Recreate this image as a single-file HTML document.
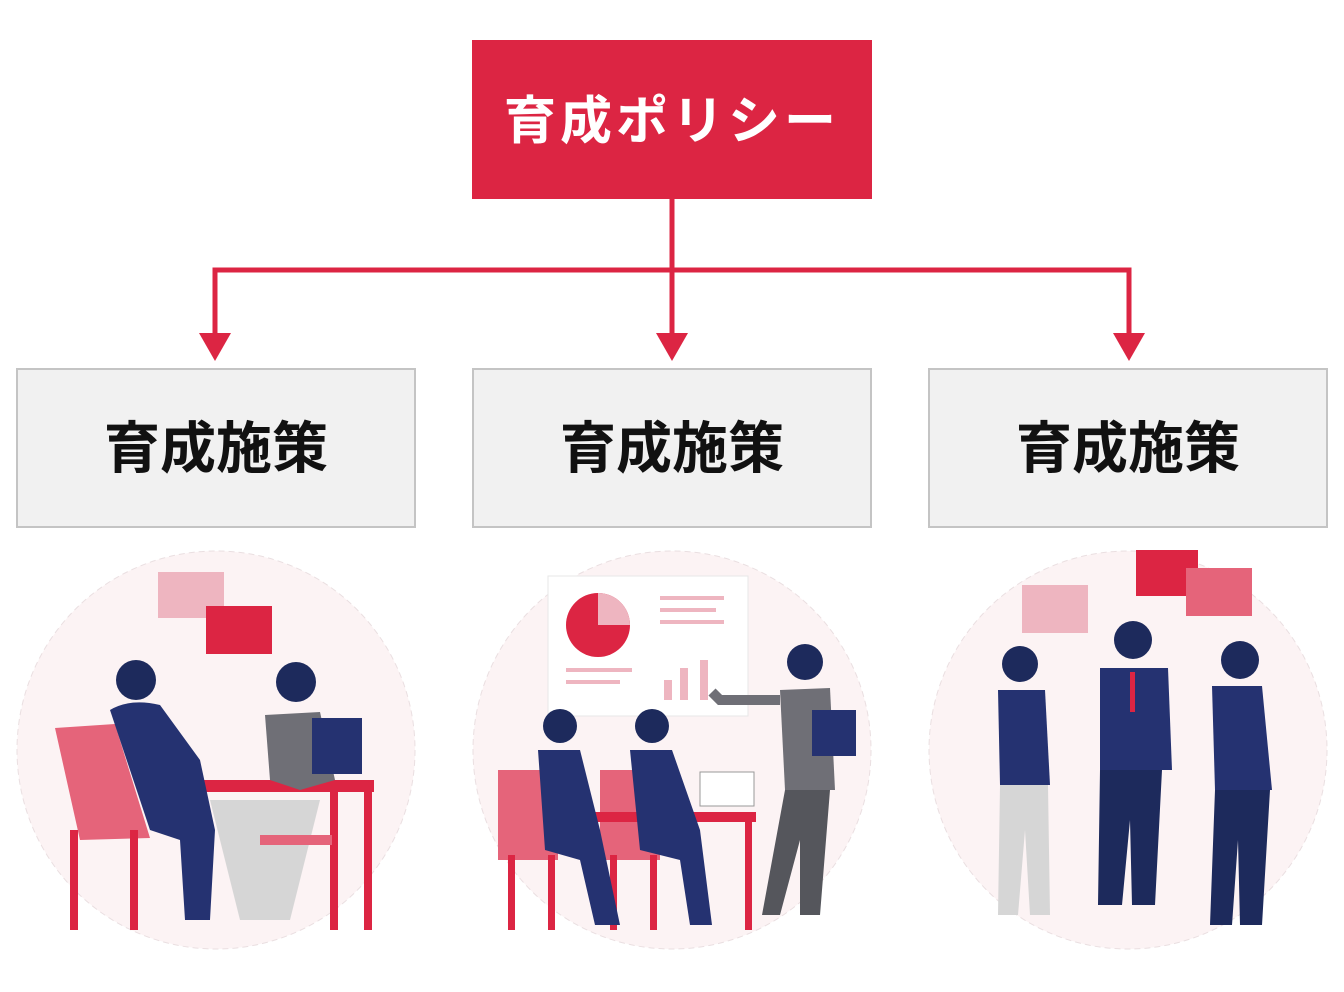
<!DOCTYPE html>
<html><head><meta charset="utf-8"><style>
html,body{margin:0;padding:0;background:#fff;}
svg{display:block}
text{font-family:"Liberation Sans","Noto Sans CJK JP",sans-serif;font-weight:bold}
</style></head><body>
<svg width="1344" height="992" viewBox="0 0 1344 992" xmlns="http://www.w3.org/2000/svg">
<rect x="472" y="40" width="400" height="159" fill="#dc2543"/>
<text x="672" y="139" font-size="52" fill="#fff" text-anchor="middle" letter-spacing="4">育成ポリシー</text>
<g stroke="#dc2543" stroke-width="5" fill="none">
<line x1="672" y1="199" x2="672" y2="336"/>
<polyline points="215,336 215,270 1129,270 1129,336"/>
</g>
<g fill="#dc2543">
<polygon points="199,333 231,333 215,361"/>
<polygon points="656,333 688,333 672,361"/>
<polygon points="1113,333 1145,333 1129,361"/>
</g>
<g fill="#f1f1f1" stroke="#c4c4c4" stroke-width="2">
<rect x="17" y="369" width="398" height="158"/>
<rect x="473" y="369" width="398" height="158"/>
<rect x="929" y="369" width="398" height="158"/>
</g>
<g font-size="56" fill="#111" text-anchor="middle">
<text x="216" y="468">育成施策</text>
<text x="672" y="468">育成施策</text>
<text x="1128" y="468">育成施策</text>
</g>
<g fill="#fcf3f4" stroke="#eadfe1" stroke-width="1" stroke-dasharray="6 4">
<circle cx="216" cy="750" r="199"/>
<circle cx="672" cy="750" r="199"/>
<circle cx="1128" cy="750" r="199"/>
</g>
<!-- scene 1 -->
<rect x="158" y="572" width="66" height="46" fill="#eeb5c0"/>
<rect x="206" y="606" width="66" height="48" fill="#dc2543"/>
<polygon points="55,728 115,724 150,838 80,840" fill="#e5647a"/>
<rect x="160" y="780" width="214" height="12" fill="#dc2543"/>
<rect x="70" y="830" width="8" height="100" fill="#dc2543"/><rect x="130" y="830" width="8" height="100" fill="#dc2543"/>
<rect x="330" y="790" width="8" height="140" fill="#dc2543"/><rect x="364" y="790" width="8" height="140" fill="#dc2543"/>
<circle cx="136" cy="680" r="20" fill="#1d2a5c"/>
<path d="M110 710 Q130 698 160 705 L200 760 L215 830 L210 920 L185 920 L180 840 L150 830 Z" fill="#253271"/>
<circle cx="296" cy="682" r="20" fill="#1d2a5c"/>
<path d="M265 715 L320 712 L335 780 L300 790 L270 780 Z" fill="#6f6f76"/>
<path d="M210 800 L320 800 L290 920 L240 920 Z" fill="#d6d6d6"/>
<rect x="312" y="718" width="50" height="56" fill="#253271"/>
<rect x="260" y="835" width="72" height="10" fill="#e5647a"/>
<!-- scene 2 -->
<rect x="548" y="576" width="200" height="140" fill="#fff" stroke="#e7e7e7"/>
<circle cx="598" cy="625" r="32" fill="#dc2543"/>
<path d="M598 625 L598 593 A32 32 0 0 1 630 625 Z" fill="#eeb5c0"/>
<rect x="566" y="668" width="66" height="4" fill="#eeb5c0"/><rect x="566" y="680" width="54" height="4" fill="#eeb5c0"/>
<rect x="660" y="596" width="64" height="4" fill="#eeb5c0"/><rect x="660" y="608" width="56" height="4" fill="#eeb5c0"/><rect x="660" y="620" width="64" height="4" fill="#eeb5c0"/>
<rect x="664" y="680" width="8" height="20" fill="#eeb5c0"/><rect x="680" y="668" width="8" height="32" fill="#eeb5c0"/><rect x="700" y="660" width="8" height="40" fill="#eeb5c0"/>
<circle cx="805" cy="662" r="18" fill="#1d2a5c"/>
<path d="M780 690 L830 688 L835 790 L785 790 Z" fill="#6f6f76"/>
<path d="M785 790 L830 790 L820 915 L800 915 L800 840 L780 915 L762 915 Z" fill="#55565c"/>
<rect x="812" y="710" width="44" height="46" fill="#253271"/>
<path d="M780 700 L720 700 L712 692" stroke="#6f6f76" stroke-width="10" fill="none"/>
<rect x="498" y="770" width="60" height="90" fill="#e5647a"/><rect x="600" y="770" width="60" height="90" fill="#e5647a"/>
<rect x="560" y="812" width="196" height="10" fill="#dc2543"/>
<rect x="508" y="855" width="7" height="75" fill="#dc2543"/><rect x="548" y="855" width="7" height="75" fill="#dc2543"/>
<rect x="610" y="855" width="7" height="75" fill="#dc2543"/><rect x="650" y="855" width="7" height="75" fill="#dc2543"/>
<rect x="745" y="820" width="7" height="110" fill="#dc2543"/>
<circle cx="560" cy="726" r="17" fill="#1d2a5c"/><circle cx="652" cy="726" r="17" fill="#1d2a5c"/>
<path d="M538 750 L580 750 L600 830 L620 925 L595 925 L580 860 L545 850 Z" fill="#253271"/>
<path d="M630 750 L672 750 L700 830 L712 925 L690 925 L680 860 L640 850 Z" fill="#253271"/>
<rect x="700" y="772" width="54" height="34" fill="#fff" stroke="#999"/>
<!-- scene 3 -->
<rect x="1022" y="585" width="66" height="48" fill="#eeb5c0"/>
<rect x="1136" y="550" width="62" height="46" fill="#dc2543"/>
<rect x="1186" y="568" width="66" height="48" fill="#e5647a"/>
<circle cx="1020" cy="664" r="18" fill="#1d2a5c"/>
<path d="M998 690 L1045 690 L1050 785 L1000 785 Z" fill="#253271"/>
<path d="M1000 785 L1048 785 L1050 915 L1030 915 L1025 830 L1018 915 L998 915 Z" fill="#d6d6d6"/>
<circle cx="1133" cy="640" r="19" fill="#1d2a5c"/>
<path d="M1100 668 L1168 668 L1172 770 L1100 770 Z" fill="#253271"/>
<path d="M1100 770 L1162 770 L1155 905 L1132 905 L1130 820 L1122 905 L1098 905 Z" fill="#1d2a5c"/>
<rect x="1130" y="672" width="5" height="40" fill="#dc2543"/>
<circle cx="1240" cy="660" r="19" fill="#1d2a5c"/>
<path d="M1212 686 L1262 686 L1272 790 L1215 790 Z" fill="#253271"/>
<path d="M1215 790 L1270 790 L1262 925 L1240 925 L1238 840 L1232 925 L1210 925 Z" fill="#1d2a5c"/>
</svg>
</body></html>
